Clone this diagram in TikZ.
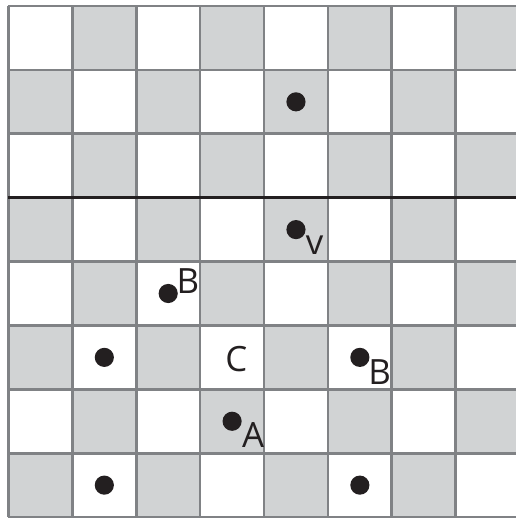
\documentclass[tikz,border=0pt]{standalone}
\usepackage{fontspec}
\setmainfont{Open Sans}
\usepackage{xcolor}
\usepackage{tikz}
\usetikzlibrary{positioning, calc}

\definecolor{cellgray}{RGB}{209,211,212}
\definecolor{linegray}{RGB}{128,130,133}
\definecolor{inkblack}{RGB}{35,31,32}

\begin{document}
\begin{tikzpicture}[
        x=1cm, y=1cm,
        % Styles
        graycell/.style={fill=cellgray, draw=none},
        gridline/.style={draw=linegray, line width=1.2pt},
        boundary/.style={draw=inkblack, line width=1.5pt},
        dot/.style={
            circle, fill=inkblack, draw=none,
            minimum size=0.3cm, inner sep=0pt
        },
        tag/.style={
            inner sep=0pt, text=inkblack,
            font=\fontsize{15.5}{16}\selectfont
        }
    ]

        \useasboundingbox (-0.133,-0.03) rectangle (7.942,8.094);

        % Board
        \foreach \i in {0,...,7}
            \foreach \j in {0,...,7} {
                \pgfmathparse{int(mod(\i+\j,2))}
                \ifnum\pgfmathresult=0
                    \fill[graycell] (\i,\j) rectangle ++(1,1);
                \fi
            }
        \draw[gridline] (0,0) grid (8,8);

        % Dividing line
        \draw[boundary] (0,5) -- (8,5);

        % Points
        \node[dot] (top) at (4.5,6.5) {};
        \node[dot] (pv) at (4.5,4.5) {};
        \node[dot] (pbl) at (2.5,3.5) {};
        \node[dot] (pleft) at (1.5,2.5) {};
        \node[dot] (pbr) at (5.5,2.5) {};
        \node[dot] (pa) at (3.5,1.5) {};
        \node[dot] (botl) at (1.5,0.5) {};
        \node[dot] (botr) at (5.5,0.5) {};

        % Labels
        \node[tag] (vtag) at (4.79,4.26) {v};
        \node[tag] (bltag) at (2.81,3.69) {B};
        \node[tag] (ctag) at (3.565,2.47) {C};
        \node[tag] (brtag) at (5.81,2.27) {B};
        \node[tag] (atag) at (3.83,1.29) {A};

\end{tikzpicture}
\end{document}
